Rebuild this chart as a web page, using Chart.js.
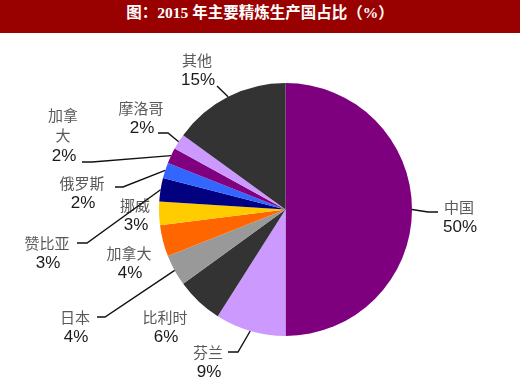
<!DOCTYPE html>
<html>
<head>
<meta charset="utf-8">
<script src="https://cdn.jsdelivr.net/npm/chart.js@4/dist/chart.umd.min.js"></script>
<style>
  html, body { margin: 0; padding: 0; background: #fff; }
  #wrap { width: 520px; height: 389px; position: relative; overflow: hidden; }
  #title {
    height: 33px; line-height: 33px; background: #990000; color: #fff;
    text-align: center; font: bold 15.5px "Liberation Serif", "Noto Sans CJK SC", serif;
  }
  #box { width: 520px; height: 356px; position: relative; }
</style>
</head>
<body>
<div id="wrap">
  <div id="title">图：2015 年主要精炼生产国占比（%）</div>
  <div id="box"><canvas id="c"></canvas></div>
</div>
<script>
// ─── Data ─────────────────────────────────────────────────────────────────────

const COUNTRIES = ["中国", "芬兰", "比利时", "日本", "加拿大", "挪威", "赞比亚", "俄罗斯", "加拿大", "摩洛哥", "其他"];
const SHARES    = [50, 9, 6, 4, 4, 3, 3, 2, 2, 2, 15];
const COLORS    = ["#7F007F", "#CC99FF", "#333333", "#999999", "#FF6600", "#FFCC00",
                   "#000080", "#3366FF", "#800080", "#CC99FF", "#333333"];

// ─── Label layout (page coords; leader runs from text to slice edge) ─────────

const TITLE_H = 33;
const LABEL_LAYOUT = [
  { x: 459, y: 207, lead: [[438, 212], [428, 212]] },
  { x: 208, y: 352, lead: [[228, 352], [238, 352]] },
  { x: 165, y: 317, lead: null },
  { x: 75,  y: 317, lead: [[97, 317], [105, 317]] },
  { x: 129, y: 253, lead: null },
  { x: 135, y: 205, lead: null },
  { x: 47,  y: 243, lead: [[77, 243], [87, 243]] },
  { x: 82,  y: 183, lead: [[115, 187], [123, 187]] },
  { x: 63,  y: 115, lead: [[82, 162], [92, 162]], split: 2 },
  { x: 141, y: 108, lead: [[158, 133], [168, 133]] },
  { x: 197, y: 60,  lead: [[217, 86]] },
];

const NAME_FONT = '15px "Noto Sans CJK SC", sans-serif';
const PCT_FONT  = '17px "Liberation Sans", Arial, sans-serif';
const LINE_GAP  = 20.5;

// ─── Plugin ───────────────────────────────────────────────────────────────────

const pieLabels = {
  id: "pieLabels",
  afterDatasetsDraw(chart) {
    const ctx = chart.ctx;
    const arcs = chart.getDatasetMeta(0).data;
    ctx.save();
    arcs.forEach((arc, i) => {
      const lay = LABEL_LAYOUT[i];
      const { x, y, startAngle, endAngle, outerRadius } =
        arc.getProps(["x", "y", "startAngle", "endAngle", "outerRadius"], true);
      const mid = (startAngle + endAngle) / 2;
      const ex = x + Math.cos(mid) * outerRadius;
      const ey = y + Math.sin(mid) * outerRadius;

      if (lay.lead) {
        ctx.strokeStyle = "#111";
        ctx.lineWidth = 1.4;
        ctx.beginPath();
        lay.lead.forEach(([px, py], k) => {
          if (k === 0) ctx.moveTo(px, py - TITLE_H);
          else ctx.lineTo(px, py - TITLE_H);
        });
        ctx.lineTo(ex, ey);
        ctx.stroke();
      }

      const name = COUNTRIES[i];
      const names = lay.split ? [name.slice(0, lay.split), name.slice(lay.split)] : [name];
      ctx.textAlign = "center";
      ctx.textBaseline = "middle";
      let ty = lay.y - TITLE_H;
      ctx.font = NAME_FONT;
      ctx.fillStyle = "#5a5a5a";
      for (const n of names) {
        ctx.fillText(n, lay.x, ty);
        ty += LINE_GAP;
      }
      ctx.font = PCT_FONT;
      ctx.fillStyle = "#1a1a1a";
      ctx.fillText(`${SHARES[i]}%`, lay.x + 1, ty);
    });
    ctx.restore();
  },
};

// ─── Chart ────────────────────────────────────────────────────────────────────

new Chart(document.getElementById("c").getContext("2d"), {
  type: "pie",
  data: {
    labels: COUNTRIES,
    datasets: [{
      data: SHARES,
      backgroundColor: COLORS,
      borderWidth: 0,
    }],
  },
  options: {
    responsive: true,
    maintainAspectRatio: false,
    animation: false,
    layout: { padding: { left: 159, right: 108, top: 50, bottom: 53 } },
    plugins: {
      legend: { display: false },
      tooltip: { enabled: false },
    },
  },
  plugins: [pieLabels],
});
</script>
</body>
</html>
